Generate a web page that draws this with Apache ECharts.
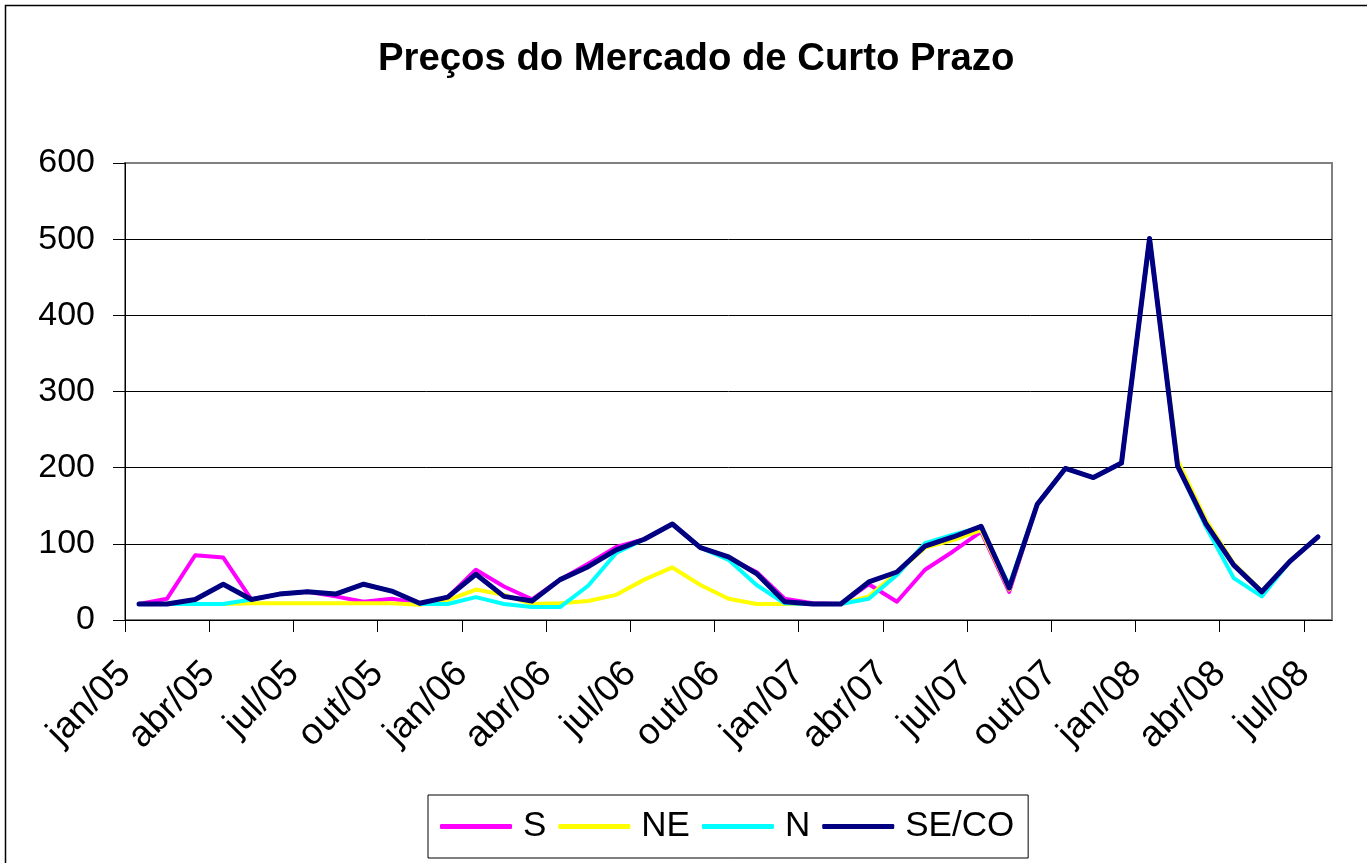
<!DOCTYPE html>
<html>
<head>
<meta charset="utf-8">
<title>Preços do Mercado de Curto Prazo</title>
<script src="https://cdn.jsdelivr.net/npm/echarts@6.0.0/dist/echarts.min.js"></script>
<style>
  html, body { margin: 0; padding: 0; background: #fff; }
  #chart { width: 1367px; height: 863px; }
</style>
</head>
<body>
<div id="chart"></div>
<script>
// meses jan/05 .. jul/08
const months = [
  'jan/05', 'fev/05', 'mar/05', 'abr/05', 'mai/05', 'jun/05', 'jul/05', 'ago/05', 'set/05', 'out/05', 'nov/05', 'dez/05',
  'jan/06', 'fev/06', 'mar/06', 'abr/06', 'mai/06', 'jun/06', 'jul/06', 'ago/06', 'set/06', 'out/06', 'nov/06', 'dez/06',
  'jan/07', 'fev/07', 'mar/07', 'abr/07', 'mai/07', 'jun/07', 'jul/07', 'ago/07', 'set/07', 'out/07', 'nov/07', 'dez/07',
  'jan/08', 'fev/08', 'mar/08', 'abr/08', 'mai/08', 'jun/08', 'jul/08'
];
const tickIndexes = [0, 3, 6, 9, 12, 15, 18, 21, 24, 27, 30, 33, 36, 39, 42];
const yTicks = [0, 100, 200, 300, 400, 500, 600];

const sulData = [21, 28, 85, 82, 27, 34, 37, 31, 24, 28, 22, 30, 66, 44, 27, 53, 74, 96, 106, 126, 95, 81, 63, 28,
  22, 21, 47, 24, 66, 90, 116, 37, 152, 199, 187, 206, 501, 202, 129, 72, 37, 77, 109];
const neData = [21, 21, 21, 21, 22, 22, 22, 22, 22, 22, 20, 26, 40, 33, 21, 22, 25, 33, 53, 69, 46, 28, 21, 21,
  21, 21, 31, 62, 95, 105, 118, 40, 152, 199, 187, 206, 501, 210, 132, 74, 38, 77, 109];
const nData = [21, 21, 21, 21, 27, 34, 37, 34, 47, 38, 21, 21, 30, 21, 17, 17, 45, 88, 106, 126, 95, 79, 46, 22,
  21, 21, 28, 59, 101, 112, 122, 45, 152, 199, 187, 206, 501, 202, 123, 55, 31, 77, 109];
const secoData = [21, 21, 27, 47, 27, 34, 37, 34, 47, 38, 22, 30, 60, 31, 25, 53, 70, 92, 106, 126, 95, 83, 61, 24,
  21, 21, 50, 63, 97, 109, 123, 42, 152, 199, 187, 206, 501, 202, 127, 72, 37, 77, 109];

const font = 'Liberation Sans, Arial, sans-serif';
const chart = echarts.init(document.getElementById('chart'));

function lineSeries(name, data, color, width) {
  return {
    name: name,
    type: 'line',
    xAxisIndex: 0,
    data: data,
    symbol: 'none',
    lineStyle: { color: color, width: width, cap: 'round', join: 'round' },
    itemStyle: { color: color }
  };
}

chart.setOption({
  animation: false,
  backgroundColor: '#fff',
  textStyle: { fontFamily: font },
  title: {
    text: 'Preços do Mercado de Curto Prazo',
    left: 373,
    top: 35,
    textStyle: { fontFamily: font, fontSize: 38.3, fontWeight: 'bold', color: '#000' }
  },
  graphic: [{
    type: 'rect',
    shape: { x: 5.5, y: 5.5, width: 1400, height: 900 },
    style: { fill: 'none', stroke: '#000', lineWidth: 1.5 },
    silent: true
  }],
  legend: {
    left: 428,
    top: 795,
    orient: 'horizontal',
    padding: [14, 14, 14, 12],
    itemGap: 12,
    itemWidth: 72,
    itemHeight: 5,
    icon: 'roundRect',
    borderColor: '#000',
    borderWidth: 1,
    backgroundColor: '#fff',
    textStyle: { fontFamily: font, fontSize: 35, color: '#000', padding: [0, 0, 0, 6] },
    data: ['S', 'NE', 'N', 'SE/CO']
  },
  grid: {
    left: 125,
    top: 163,
    width: 1207,
    height: 457,
    show: true,
    borderColor: '#808080',
    borderWidth: 2,
    outerBoundsMode: 'none'
  },
  xAxis: [
    {
      type: 'category',
      data: months,
      boundaryGap: true,
      show: false
    },
    {
      type: 'value',
      position: 'bottom',
      min: 0,
      max: months.length,
      splitLine: { show: false },
      axisLine: { show: true, lineStyle: { color: '#000', width: 1 } },
      axisTick: { show: true, customValues: tickIndexes, length: 12, lineStyle: { color: '#000' } },
      axisLabel: {
        customValues: tickIndexes,
        rotate: 45,
        margin: 48,
        fontFamily: font,
        fontSize: 37,
        color: '#000',
        formatter: function (v) { return months[v] || ''; }
      }
    }
  ],
  yAxis: {
    type: 'value',
    min: 0,
    max: 600,
    interval: 100,
    axisLine: { show: true, lineStyle: { color: '#000', width: 1 } },
    axisTick: { show: true, length: 12, lineStyle: { color: '#000' } },
    axisLabel: {
      customValues: yTicks,
      margin: 30,
      fontFamily: font,
      fontSize: 34,
      color: '#000'
    },
    splitLine: { show: true, lineStyle: { color: ['#000', '#000', '#000', '#000', '#000', '#000', '#808080'], width: 1 } }
  },
  series: [
    lineSeries('S', sulData, '#ff00ff', 4),
    lineSeries('NE', neData, '#ffff00', 4),
    lineSeries('N', nData, '#00ffff', 4),
    lineSeries('SE/CO', secoData, '#000080', 5)
  ]
});
</script>
</body>
</html>
